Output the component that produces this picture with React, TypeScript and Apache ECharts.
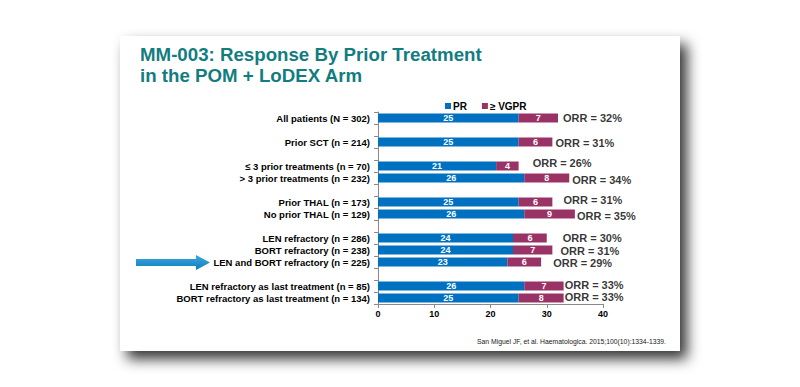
import React, { useEffect, useRef } from "react";
import * as echarts from "echarts";

const categories = [
  "All patients (N = 302)",
  "",
  "Prior SCT (n = 214)",
  " ",
  "≤ 3 prior treatments (n = 70)",
  "> 3 prior treatments (n = 232)",
  "  ",
  "Prior THAL (n = 173)",
  "No prior THAL (n = 129)",
  "   ",
  "LEN refractory (n = 286)",
  "BORT refractory (n = 238)",
  "LEN and BORT refractory (n = 225)",
  "    ",
  "LEN refractory as last treatment (n = 85)",
  "BORT refractory as last treatment (n = 134)",
];

// null = spacer row
const prValues = [25, null, 25, null, 21, 26, null, 25, 26, null, 24, 24, 23, null, 26, 25];
const vgprValues = [7, null, 6, null, 4, 8, null, 6, 9, null, 6, 7, 6, null, 7, 8];
const orrValues = [32, null, 31, null, 26, 34, null, 31, 35, null, 30, 31, 29, null, 33, 33];

const xTicks = [0, 10, 20, 30, 40];
const seriesNames = ["PR", "≥ VGPR"];

const titleLines = ["MM-003: Response By Prior Treatment", "in the POM + LoDEX Arm"];
const footnote = "San Miguel JF, et al. Haematologica. 2015;100(10):1334-1339.";

// label placement tweaks for the ORR annotations (dx, dy)
const orrOffsets: Record<number, [number, number]> = {
  0: [5, 0],
  2: [3, 1],
  4: [14, -3],
  5: [3, 2],
  7: [11, -2],
  8: [2, 2],
  10: [16, 0],
  11: [8, 1],
  12: [12, 1],
  14: [1, -1],
  15: [1, -1],
};

export default function App() {
  const ref = useRef<HTMLDivElement>(null);
  useEffect(() => {
    if (!ref.current) return;
    const chart = echarts.init(ref.current, null, { renderer: "svg" });
    const font = "'Liberation Sans', Arial, sans-serif";

    const orrData = categories.map((c, i) => {
      if (orrValues[i] == null) return null;
      const off = orrOffsets[i] || [2, 0];
      return {
        value: [(prValues[i] as number) + (vgprValues[i] as number), c],
        label: { offset: off },
        orr: orrValues[i],
      };
    }).filter(Boolean);

    const option: any = {
      animation: false,
      backgroundColor: "#ffffff",
      textStyle: { fontFamily: font },
      legend: {
        data: seriesNames,
        left: 440,
        top: 96,
        itemWidth: 6,
        itemHeight: 6,
        itemGap: 15,
        icon: "rect",
        textStyle: { fontSize: 10, fontWeight: "bold", color: "#000", padding: [0, 0, 0, -3] },
      },
      grid: { left: 378, right: 197, top: 112, height: 192, containLabel: false },
      xAxis: {
        type: "value",
        min: xTicks[0],
        max: xTicks[xTicks.length - 1],
        interval: 10,
        splitLine: { show: false },
        axisLine: { show: true, lineStyle: { color: "#8a8a8a", width: 1 } },
        axisTick: { show: true, length: 4, lineStyle: { color: "#8a8a8a" } },
        axisLabel: { fontSize: 9, fontWeight: "bold", color: "#000", margin: 5 },
      },
      yAxis: {
        type: "category",
        data: categories,
        inverse: true,
        axisLine: { show: true, lineStyle: { color: "#8a8a8a", width: 1 } },
        axisTick: { show: true, length: 4, interval: 0, lineStyle: { color: "#8a8a8a" } },
        axisLabel: { interval: 0, fontSize: 9.5, fontWeight: "bold", color: "#000", margin: 8 },
      },
      series: [
        {
          name: seriesNames[0],
          type: "bar",
          stack: "total",
          barWidth: 9,
          data: prValues.map((v) => (v == null ? "-" : v)),
          itemStyle: { color: "#0070C0" },
          label: {
            show: true,
            position: "inside",
            color: "#fff",
            fontSize: 9,
            fontWeight: "bold",
          },
        },
        {
          name: seriesNames[1],
          type: "bar",
          stack: "total",
          barWidth: 9,
          data: vgprValues.map((v) => (v == null ? "-" : v)),
          itemStyle: { color: "#993366" },
          label: {
            show: true,
            position: "inside",
            color: "#fff",
            fontSize: 9,
            fontWeight: "bold",
          },
        },
        {
          name: "ORR",
          type: "scatter",
          symbolSize: 0,
          data: orrData,
          silent: true,
          label: {
            show: true,
            position: "right",
            distance: 0,
            color: "#000",
            fontSize: 11,
            fontWeight: "bold",
            formatter: (p: any) => `ORR = ${p.data.orr}%`,
          },
        },
      ],
      graphic: [
        {
          type: "rect",
          z: -10,
          shape: { x: 120, y: 36, width: 560, height: 315 },
          style: {
            fill: "#ffffff",
            shadowBlur: 14,
            shadowOffsetX: 7,
            shadowOffsetY: 8,
            shadowColor: "rgba(0,0,0,0.8)",
          },
        },
        {
          type: "text",
          x: 140,
          y: 44,
          style: {
            text: titleLines.join("\n"),
            fill: "#127D80",
            fontSize: 18.7,
            fontWeight: "bold",
            fontFamily: font,
            lineHeight: 21,
          },
        },
        {
          type: "polygon",
          shape: {
            points: [
              [136, 259],
              [196, 259],
              [196, 255],
              [210, 262.5],
              [196, 270],
              [196, 266],
              [136, 266],
            ],
          },
          style: {
            fill: new echarts.graphic.LinearGradient(0, 0, 0, 1, [
              { offset: 0, color: "#3FA9DD" },
              { offset: 1, color: "#0B7EBE" },
            ]),
          },
        },
        {
          type: "text",
          x: 477,
          y: 338,
          style: {
            text: footnote,
            fill: "#222",
            fontSize: 6.8,
            fontFamily: font,
          },
        },
      ],
    };
    chart.setOption(option);
    return () => chart.dispose();
  }, []);
  return (
    <div
      ref={ref}
      style={{ width: 800, height: 387, position: "absolute", left: 0, top: 0 }}
    />
  );
}
